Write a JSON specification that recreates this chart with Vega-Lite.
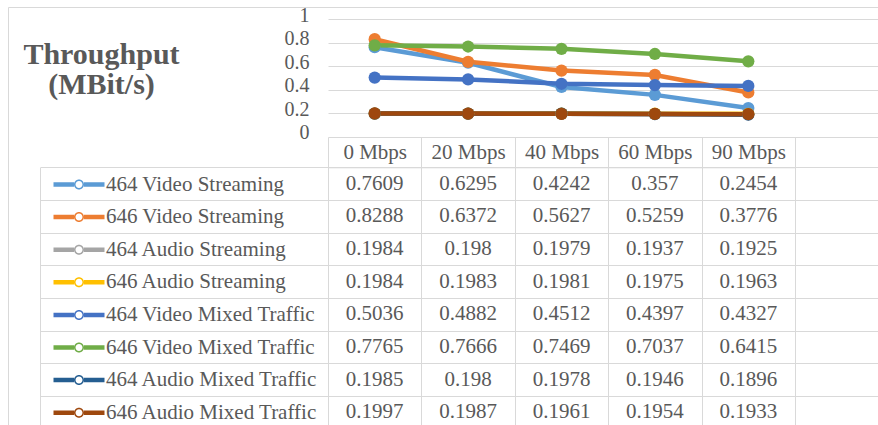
{
  "$schema": "https://vega.github.io/schema/vega-lite/v6.json",
  "width": 870,
  "height": 418,
  "autosize": "none",
  "padding": {"left": 8, "top": 7, "right": 0, "bottom": 0},
  "background": "white",
  "config": {
    "font": "Liberation Serif",
    "view": {"stroke": "#D9D9D9", "strokeWidth": 1},
    "axis": {"labelFont": "Liberation Serif", "labelColor": "#595959", "labelFontSize": 21, "tickColor": "#D9D9D9", "domainColor": "#D9D9D9", "grid": false, "titleFont": "Liberation Serif"}
  },
  "datasets": {
    "d": [
      {"series": "464 Video Streaming", "bw": "0 Mbps", "v": 0.7609},
      {"series": "464 Video Streaming", "bw": "20 Mbps", "v": 0.6295},
      {"series": "464 Video Streaming", "bw": "40 Mbps", "v": 0.4242},
      {"series": "464 Video Streaming", "bw": "60 Mbps", "v": 0.357},
      {"series": "464 Video Streaming", "bw": "90 Mbps", "v": 0.2454},
      {"series": "646 Video Streaming", "bw": "0 Mbps", "v": 0.8288},
      {"series": "646 Video Streaming", "bw": "20 Mbps", "v": 0.6372},
      {"series": "646 Video Streaming", "bw": "40 Mbps", "v": 0.5627},
      {"series": "646 Video Streaming", "bw": "60 Mbps", "v": 0.5259},
      {"series": "646 Video Streaming", "bw": "90 Mbps", "v": 0.3776},
      {"series": "464 Audio Streaming", "bw": "0 Mbps", "v": 0.1984},
      {"series": "464 Audio Streaming", "bw": "20 Mbps", "v": 0.198},
      {"series": "464 Audio Streaming", "bw": "40 Mbps", "v": 0.1979},
      {"series": "464 Audio Streaming", "bw": "60 Mbps", "v": 0.1937},
      {"series": "464 Audio Streaming", "bw": "90 Mbps", "v": 0.1925},
      {"series": "646 Audio Streaming", "bw": "0 Mbps", "v": 0.1984},
      {"series": "646 Audio Streaming", "bw": "20 Mbps", "v": 0.1983},
      {"series": "646 Audio Streaming", "bw": "40 Mbps", "v": 0.1981},
      {"series": "646 Audio Streaming", "bw": "60 Mbps", "v": 0.1975},
      {"series": "646 Audio Streaming", "bw": "90 Mbps", "v": 0.1963},
      {"series": "464 Video Mixed Traffic", "bw": "0 Mbps", "v": 0.5036},
      {"series": "464 Video Mixed Traffic", "bw": "20 Mbps", "v": 0.4882},
      {"series": "464 Video Mixed Traffic", "bw": "40 Mbps", "v": 0.4512},
      {"series": "464 Video Mixed Traffic", "bw": "60 Mbps", "v": 0.4397},
      {"series": "464 Video Mixed Traffic", "bw": "90 Mbps", "v": 0.4327},
      {"series": "646 Video Mixed Traffic", "bw": "0 Mbps", "v": 0.7765},
      {"series": "646 Video Mixed Traffic", "bw": "20 Mbps", "v": 0.7666},
      {"series": "646 Video Mixed Traffic", "bw": "40 Mbps", "v": 0.7469},
      {"series": "646 Video Mixed Traffic", "bw": "60 Mbps", "v": 0.7037},
      {"series": "646 Video Mixed Traffic", "bw": "90 Mbps", "v": 0.6415},
      {"series": "464 Audio Mixed Traffic", "bw": "0 Mbps", "v": 0.1985},
      {"series": "464 Audio Mixed Traffic", "bw": "20 Mbps", "v": 0.198},
      {"series": "464 Audio Mixed Traffic", "bw": "40 Mbps", "v": 0.1978},
      {"series": "464 Audio Mixed Traffic", "bw": "60 Mbps", "v": 0.1946},
      {"series": "464 Audio Mixed Traffic", "bw": "90 Mbps", "v": 0.1896},
      {"series": "646 Audio Mixed Traffic", "bw": "0 Mbps", "v": 0.1997},
      {"series": "646 Audio Mixed Traffic", "bw": "20 Mbps", "v": 0.1987},
      {"series": "646 Audio Mixed Traffic", "bw": "40 Mbps", "v": 0.1961},
      {"series": "646 Audio Mixed Traffic", "bw": "60 Mbps", "v": 0.1954},
      {"series": "646 Audio Mixed Traffic", "bw": "90 Mbps", "v": 0.1933}
    ]
  },
  "data": {"name": "d"},
  "layer": [
    {
      "layer": [
        {
          "mark": {"type": "line", "strokeWidth": 4.5},
          "encoding": {
            "x": {"field": "bw", "type": "nominal", "scale": {"type": "band", "domain": ["0 Mbps", "20 Mbps", "40 Mbps", "60 Mbps", "90 Mbps"], "range": [320, 787], "paddingInner": 0, "paddingOuter": 0},
              "axis": {"orient": "bottom", "offset": -288, "title": null, "domain": false, "ticks": true, "tickBand": "extent", "tickSize": 30.3, "labelPadding": -15.3, "labelBaseline": "middle", "labelAngle": 0, "labelFontSize": 21}},
            "y": {"field": "v", "type": "quantitative", "scale": {"domain": [-2.4407, 1.1017], "nice": false, "zero": false},
              "axis": {"orient": "right", "values": [0, 0.2, 0.4, 0.6, 0.8, 1], "format": "~g", "domain": false, "ticks": true, "tickSize": -550, "labelAlign": "right", "labelPadding": -19, "labelBaseline": "middle", "labelOffset": -4, "labelFontSize": 20, "labelFlush": false, "labelOverlap": false, "grid": false,
                "title": ["Throughput", "(MBit/s)"], "titleAngle": 0, "titleX": -777, "titleY": 56, "titleAlign": "center", "titleBaseline": "alphabetic", "titleFontSize": 30, "titleFontWeight": "bold", "titleColor": "#595959", "titleLineHeight": 30}},
            "color": {"field": "series", "type": "nominal",
              "scale": {"domain": ["464 Video Streaming", "646 Video Streaming", "464 Audio Streaming", "646 Audio Streaming", "464 Video Mixed Traffic", "646 Video Mixed Traffic", "464 Audio Mixed Traffic", "646 Audio Mixed Traffic"],
                "range": ["#5B9BD5", "#ED7D31", "#A5A5A5", "#FFC000", "#4472C4", "#70AD47", "#255E91", "#9E480E"]},
              "legend": {"orient": "none", "legendX": 60.5, "legendY": 167, "title": null, "direction": "vertical", "rowPadding": 10.6, "padding": 0, "offset": 0,
                "symbolType": "M-5.1,-0.45H-1V0.45H-5.1Z M1,-0.45H5.1V0.45H1Z M-1,0A1,1 0 1,1 1,0A1,1 0 1,1 -1,0Z M-0.7,0A0.7,0.7 0 1,0 0.7,0A0.7,0.7 0 1,0 -0.7,0Z",
                "symbolSize": 100, "symbolStrokeWidth": 0, "labelFontSize": 21, "labelFont": "Liberation Serif", "labelColor": "#595959", "labelOffset": 16.5, "labelLimit": 400, "labelBaseline": "middle",
                "encode": {"symbols": {"update": {"fill": {"scale": "color", "field": "value"}, "stroke": {"value": "transparent"}, "opacity": {"value": 1}}}}}}
          }
        },
        {
          "mark": {"type": "point", "filled": true, "size": 150, "opacity": 1},
          "encoding": {
            "x": {"field": "bw", "type": "nominal", "scale": {"type": "band", "domain": ["0 Mbps", "20 Mbps", "40 Mbps", "60 Mbps", "90 Mbps"], "range": [320, 787], "paddingInner": 0, "paddingOuter": 0},
              "axis": {"orient": "bottom", "offset": -288, "title": null, "domain": false, "ticks": true, "tickBand": "extent", "tickSize": 30.3, "labelPadding": -15.3, "labelBaseline": "middle", "labelAngle": 0, "labelFontSize": 21}},
            "y": {"field": "v", "type": "quantitative", "scale": {"domain": [-2.4407, 1.1017], "nice": false, "zero": false},
              "axis": {"orient": "right", "values": [0, 0.2, 0.4, 0.6, 0.8, 1], "format": "~g", "domain": false, "ticks": true, "tickSize": -550, "labelAlign": "right", "labelPadding": -19, "labelBaseline": "middle", "labelOffset": -4, "labelFontSize": 20, "labelFlush": false, "labelOverlap": false, "grid": false,
                "title": ["Throughput", "(MBit/s)"], "titleAngle": 0, "titleX": -777, "titleY": 56, "titleAlign": "center", "titleBaseline": "alphabetic", "titleFontSize": 30, "titleFontWeight": "bold", "titleColor": "#595959", "titleLineHeight": 30}},
            "color": {"field": "series", "type": "nominal"}
          }
        }
      ]
    },
    {
      "mark": {"type": "text", "fontSize": 21, "color": "#595959", "font": "Liberation Serif", "align": "center", "baseline": "middle"},
      "encoding": {
        "x": {"field": "bw", "type": "nominal", "scale": {"type": "band", "domain": ["0 Mbps", "20 Mbps", "40 Mbps", "60 Mbps", "90 Mbps"], "range": [320, 787], "paddingInner": 0, "paddingOuter": 0},
          "axis": {"orient": "top", "offset": -160.3, "title": null, "labels": false, "domain": true, "ticks": true, "tickBand": "extent", "tickSize": -257.7}},
        "y": {"field": "series", "type": "nominal",
          "scale": {"type": "band", "domain": ["464 Video Streaming", "646 Video Streaming", "464 Audio Streaming", "646 Audio Streaming", "464 Video Mixed Traffic", "646 Video Mixed Traffic", "464 Audio Mixed Traffic", "646 Audio Mixed Traffic"], "range": [160.3, 421.66], "paddingInner": 0, "paddingOuter": 0},
          "axis": {"orient": "left", "offset": -32, "title": null, "labels": false, "domain": true, "ticks": true, "tickBand": "extent", "tickSize": -838}},
        "text": {"field": "v", "type": "nominal"}
      }
    }
  ],
  "resolve": {"scale": {"y": "independent"}, "axis": {"x": "independent", "y": "independent"}}
}
